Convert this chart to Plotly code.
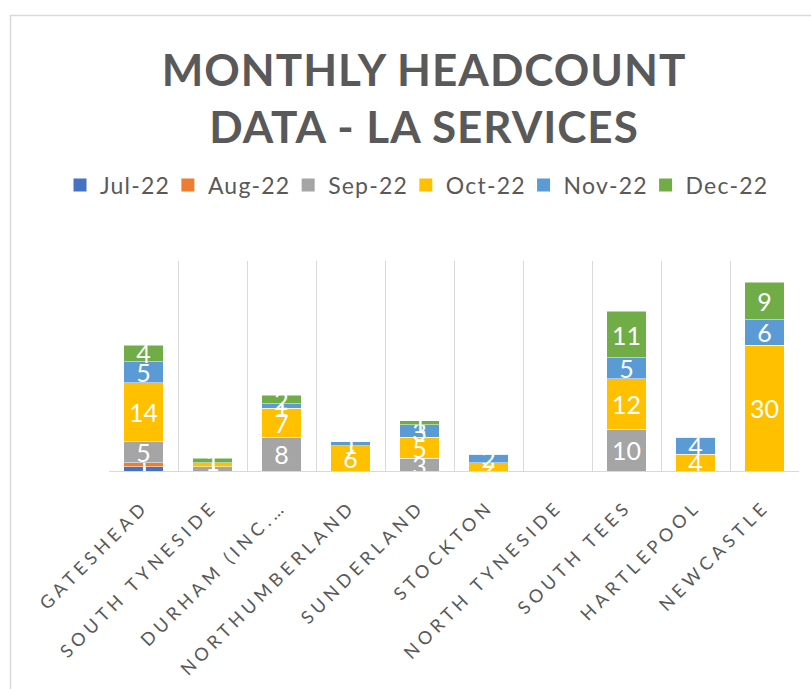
import plotly.graph_objects as go

# Local authority services and monthly headcounts
services = ["GATESHEAD", "SOUTH TYNESIDE", "DURHAM (INC.…", "NORTHUMBERLAND",
            "SUNDERLAND", "STOCKTON", "NORTH TYNESIDE", "SOUTH TEES",
            "HARTLEPOOL", "NEWCASTLE"]
months = ["Jul-22", "Aug-22", "Sep-22", "Oct-22", "Nov-22", "Dec-22"]

jul_22 = [1, 0, 0, 0, 0, 0, 0, 0, 0, 0]
aug_22 = [1, 0, 0, 0, 0, 0, 0, 0, 0, 0]
sep_22 = [5, 1, 8, 0, 3, 0, 0, 10, 0, 0]
oct_22 = [14, 1, 7, 6, 5, 2, 0, 12, 4, 30]
nov_22 = [5, 0, 1, 1, 3, 2, 0, 5, 4, 6]
dec_22 = [4, 1, 2, 0, 1, 0, 0, 11, 0, 9]

series = [jul_22, aug_22, sep_22, oct_22, nov_22, dec_22]
colors = ["#4472C4", "#ED7D31", "#A5A5A5", "#FFC000", "#5B9BD5", "#70AD47"]

FONT = "Lato"
GREY = "#595959"

fig = go.Figure()
for name, vals, col in zip(months, series, colors):
    fig.add_trace(go.Bar(
        name=name,
        x=services,
        y=vals,
        marker=dict(color=col, line=dict(color="white", width=0.5)),
        text=[str(v) if v else "" for v in vals],
        textposition="inside",
        insidetextanchor="middle",
        textangle=0,
        textfont=dict(family=FONT, size=25, color="white"),
        hoverinfo="x+y+name",
        showlegend=False,
        legendgroup=name,
    ))

# Legend entries with larger square swatches
for name, col in zip(months, colors):
    fig.add_trace(go.Scatter(
        name=name, x=[None], y=[None], mode="markers",
        marker=dict(symbol="square", size=13, color=col),
        legendgroup=name, showlegend=True, hoverinfo="skip",
    ))

# Plot area in pixels: x 109..799, y 261..471
W, H = 811, 689
L, R, T, B = 109, 12, 261, 218
pw, ph = W - L - R, H - T - B


def px_x(x):
    return (x - L) / pw


def px_y(y):
    return 1 + (T - y) / ph


fig.update_layout(
    width=W, height=H,
    margin=dict(l=L, r=R, t=T, b=B, pad=0),
    paper_bgcolor="white", plot_bgcolor="white",
    barmode="stack",
    bargap=0.43,
    uniformtext=dict(minsize=25, mode="show"),
    title=dict(
        text="MONTHLY HEADCOUNT<br>DATA - LA SERVICES",
        font=dict(family=FONT, size=44, color=GREY, weight="bold"),
        x=424 / W, xanchor="center", xref="container",
        y=1 - 86 / H, yanchor="top", yref="container",
    ),
    legend=dict(
        orientation="h",
        x=px_x(60), xanchor="left",
        y=px_y(185), yanchor="middle",
        font=dict(family=FONT, size=23, color=GREY),
        traceorder="normal",
        itemwidth=30,
    ),
    xaxis=dict(
        type="category",
        tickson="boundaries",
        showgrid=True, gridcolor="#D9D9D9", gridwidth=1,
        showline=True, linecolor="#D9D9D9", linewidth=1,
        ticks="", tickangle=-45,
        ticklabelstandoff=17,
        tickfont=dict(family=FONT, size=18, color=GREY),
        automargin=False,
        range=[-0.5, 9.5],
    ),
    yaxis=dict(
        range=[0, 50], visible=False, showgrid=False, zeroline=False,
    ),
    shapes=[dict(
        type="rect", xref="paper", yref="paper",
        x0=px_x(10.5), x1=px_x(830), y0=px_y(720), y1=px_y(15.5),
        line=dict(color="#D9D9D9", width=1.5), layer="below",
    )],
)

spacing_js = """
var gd = document.getElementById('{plot_id}');
function spaceText() {
  document.querySelectorAll('.xtick text').forEach(function (t) { t.style.letterSpacing = '4.5px'; });
  document.querySelectorAll('.gtitle').forEach(function (t) { t.style.letterSpacing = '1px'; });
  document.querySelectorAll('.legendtext').forEach(function (t) { t.style.letterSpacing = '1.2px'; });
}
spaceText();
gd.on('plotly_afterplot', spaceText);
"""

fig.write_html("out.html", post_script=spacing_js)
